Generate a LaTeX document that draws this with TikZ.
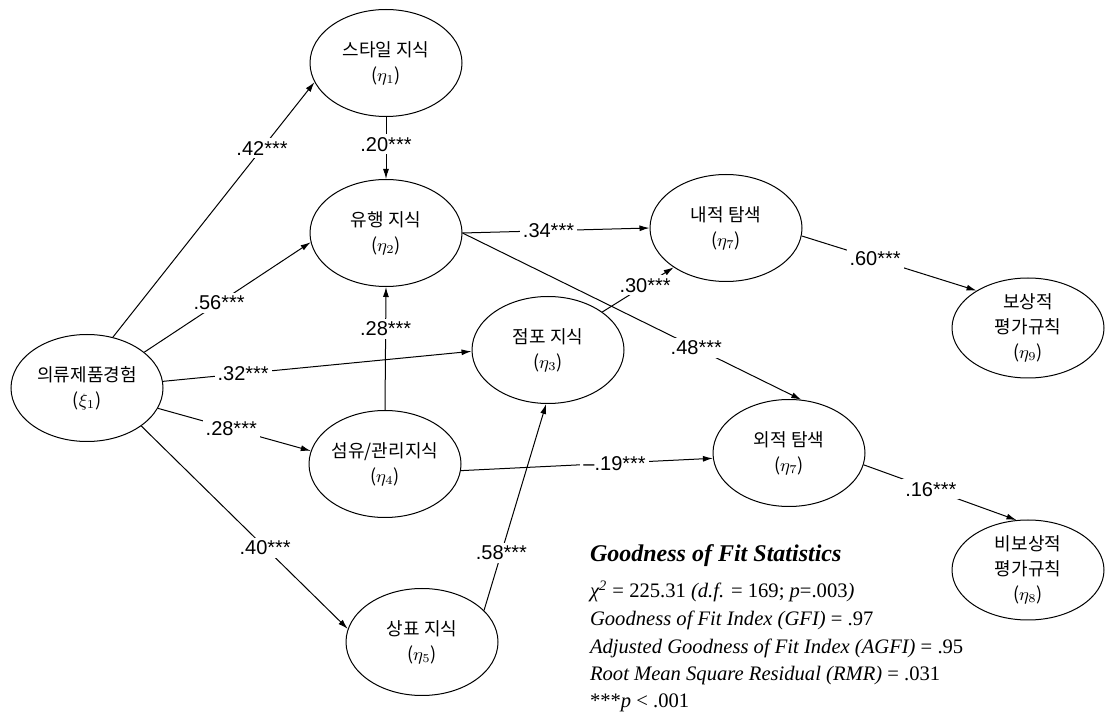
\documentclass[tikz,border=0pt]{standalone}
\usepackage{fontspec}
\setmainfont{Liberation Sans}
\newfontfamily\kor{Noto Sans CJK KR}
\newfontfamily\statfont{Liberation Serif}
\usepackage{tikz}
\usetikzlibrary{arrows.meta}
\usetikzlibrary{shapes.geometric}
\tikzset{>={Latex[length=5pt,width=3pt]}}
\tikzset{var/.style = {ellipse, draw, line width=0.5pt, minimum width=76pt, minimum height=53.5pt, inner sep=0pt, align=center, font=\kor\fontsize{9}{12.5}\selectfont}}
\tikzset{coef/.style = {fill=white, inner sep=1.5pt, font=\fontsize{10}{11}\selectfont}}
\tikzset{link/.style = {->, line width=0.5pt}}

\begin{document}
\begin{tikzpicture}[x=0.5pt, y=-0.5pt]
\useasboundingbox (0, 0) rectangle (1105, 727);
\node [var] (xi1) at (87, 388) {의류제품경험\\($\xi_{1}$)};
\node [var] (eta1) at (386, 63) {스타일 지식\\($\eta_{1}$)};
\node [var] (eta2) at (386, 233) {유행 지식\\($\eta_{2}$)};
\node [var] (eta3) at (548, 350) {점포 지식\\($\eta_{3}$)};
\node [var] (eta4) at (385, 464) {섬유/관리지식\\($\eta_{4}$)};
\node [var] (eta5) at (422, 642) {상표 지식\\($\eta_{5}$)};
\node [var] (inner) at (726, 228) {내적 탐색\\($\eta_{7}$)};
\node [var] (outer) at (789, 453) {외적 탐색\\($\eta_{7}$)};
\node [var, minimum height=50pt] (comp) at (1028, 328) {보상적\\평가규칙\\($\eta_{9}$)};
\node [var, minimum height=50pt] (noncomp) at (1028, 570) {비보상적\\평가규칙\\($\eta_{8}$)};
\draw [link] (xi1.63) -- node [coef, pos=.74] {.42***} (eta1.195);
\draw [link] (eta1.south) -- node [coef, pos=.44] {.20***} (eta2.north);
\draw [link] (xi1.32) -- node [coef, pos=.45] {.56***} (eta2.187);
\draw [link] (eta4.north) -- node [coef, pos=.66] {.28***} (eta2.south);
\draw [link] (xi1.5) -- node [coef, pos=.26] {.32***} (eta3.181);
\draw [link] (xi1.344) -- node [coef, pos=.48] {.28***} (eta4.170);
\draw [link] (xi1.325) -- node [coef, pos=.6] {.40***} (eta5.170);
\draw [link] (eta5.27) -- node [coef, pos=.28] {.58***} (eta3.268);
\draw [link] (eta2.east) -- node [coef, pos=.46] {.34***} (inner.west);
\draw [link] (eta2.east) -- node [coef, pos=.69] {.48***} (outer.77);
\draw [link] (eta3.35) -- node [coef, pos=.6] {.30***} (inner.217);
\draw [link] (eta4.355) -- node [coef, pos=.61] {--.19***} (outer.184);
\draw [link] (inner.354) -- node [coef, pos=.42] {.60***} (comp.144);
\draw [link] (outer.351) -- node [coef, pos=.44] {.16***} (noncomp.103);
\node [anchor=base west, align=left, font=\statfont\itshape\fontsize{10.3}{13.75}\selectfont] (fit) at (583, 708)
  {{\bfseries\fontsize{12}{14}\selectfont Goodness of Fit Statistics}\\[4.75pt]
   χ\textsuperscript{2} \textup{= 225.31} (d.f. \textup{= 169;} p\textup{=.003})\\
   Goodness of Fit Index (GFI) \textup{= .97}\\
   Adjusted Goodness of Fit Index (AGFI) \textup{= .95}\\
   Root Mean Square Residual (RMR) \textup{= .031}\\
   \textup{***}p \textup{< .001}};
\end{tikzpicture}
\end{document}
